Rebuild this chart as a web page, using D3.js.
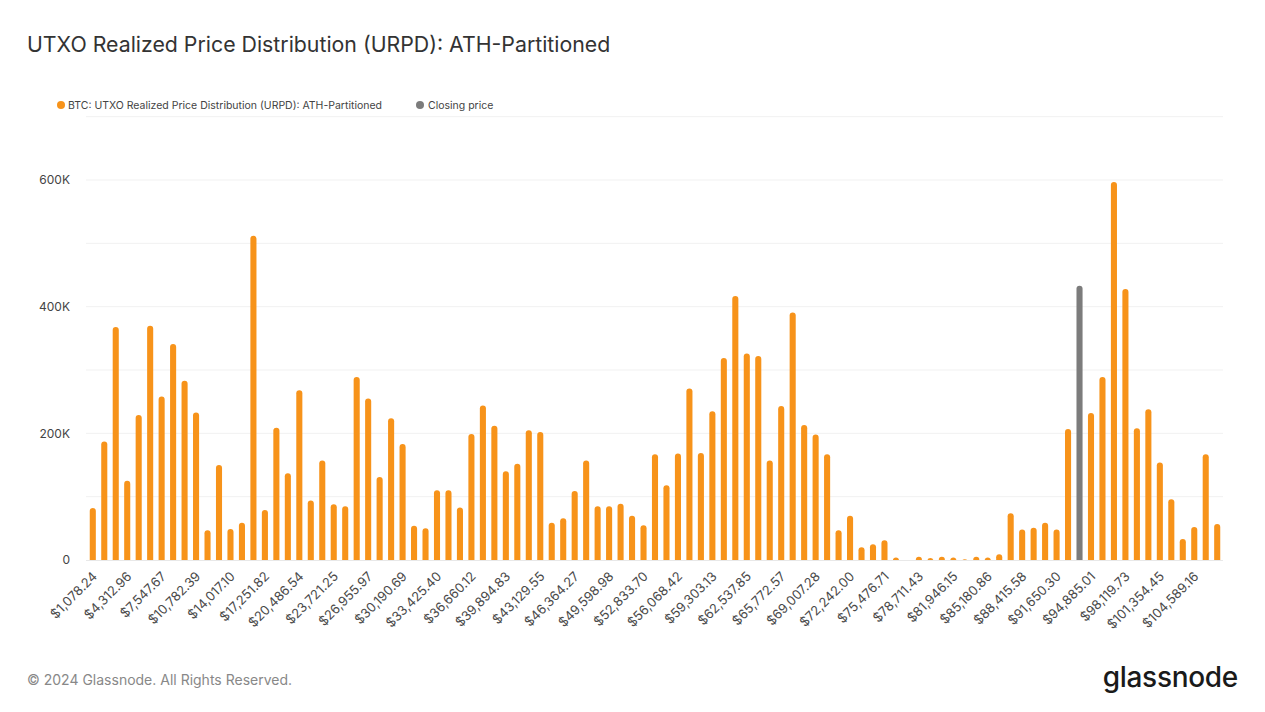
<!DOCTYPE html>
<html>
<head>
<meta charset="utf-8">
<script src="https://cdn.jsdelivr.net/npm/d3@7"></script>
<style>
  html, body { margin: 0; padding: 0; background: #fff; }
  svg { display: block; font-family: Inter, "Noto Sans", sans-serif; }
</style>
</head>
<body>
<svg id="chart" width="1265" height="712"></svg>
<script>
// ---- Data ----
const title = "UTXO Realized Price Distribution (URPD): ATH-Partitioned";
const seriesName = "BTC: UTXO Realized Price Distribution (URPD): ATH-Partitioned";
const closingName = "Closing price";

// bin index 1..99 (each bin ≈ $1,078.24 wide)
const binIndex = d3.range(1, 100);

// URPD supply per bin, in thousands of BTC
const urpdValues = [
  82, 187, 368, 125, 229, 370, 258, 341, 283, 233,
  47, 150, 49, 59, 512, 79, 209, 137, 268, 94,
  157, 88, 85, 289, 255, 131, 224, 183, 54, 50,
  110, 110, 83, 199, 244, 212, 140, 152, 205, 202,
  59, 66, 109, 157, 85, 85, 89, 70, 55, 167,
  118, 168, 271, 169, 235, 319, 417, 326, 322, 157,
  243, 391, 213, 198, 167, 47, 70, 20, 25, 31,
  4, 0, 5, 3, 5, 4, 1, 5, 4, 9,
  74, 48, 51, 59, 48, 207, 0, 232, 289, 597,
  428, 208, 238, 154, 96, 33, 52, 167, 57
];

// Closing price bin (bin 87) with its supply in thousands
const closingBin = [87];
const closingValue = [433];

const tickLabels = [
  "$1,078.24", "$4,312.96", "$7,547.67", "$10,782.39", "$14,017.10", "$17,251.82",
  "$20,486.54", "$23,721.25", "$26,955.97", "$30,190.69", "$33,425.40", "$36,660.12",
  "$39,894.83", "$43,129.55", "$46,364.27", "$49,598.98", "$52,833.70", "$56,068.42",
  "$59,303.13", "$62,537.85", "$65,772.57", "$69,007.28", "$72,242.00", "$75,476.71",
  "$78,711.43", "$81,946.15", "$85,180.86", "$88,415.58", "$91,650.30", "$94,885.01",
  "$98,119.73", "$101,354.45", "$104,589.16"
];
const tickBins = [1,4,7,10,13,16,19,22,25,28,31,34,37,40,43,46,49,52,55,58,61,64,67,70,73,76,79,82,85,88,91,94,97];

const yTicks = [0, 200, 400, 600];
const yGrid = [100, 200, 300, 400, 500, 600, 700];

// ---- Layout ----
const svg = d3.select("#chart");
const W = 1265, H = 712;
const plot = { left: 87, right: 1223, top: 116.7, bottom: 560 };
const orange = "#f7931a", gray = "#7c7c7c";

const x = d3.scaleBand().domain(binIndex).range([plot.left, plot.right]).paddingInner(0.47).paddingOuter(0.24);
const y = d3.scaleLinear().domain([0, 700]).range([plot.bottom, plot.top]);

// Title
svg.append("text").attr("x", 27).attr("y", 52)
  .attr("font-size", 21.3).attr("fill", "#333").text(title);

// Gridlines
svg.append("g").selectAll("line").data(yGrid).join("line")
  .attr("x1", 86).attr("x2", plot.right)
  .attr("y1", d => y(d)).attr("y2", d => y(d))
  .attr("stroke", "#f1f1f1").attr("stroke-width", 1);

// Y axis
const yAxis = d3.axisLeft(y).tickValues(yTicks)
  .tickFormat(d => d === 0 ? "0" : d + "K").tickSize(0).tickPadding(0);
const yg = svg.append("g").attr("transform", `translate(70,0)`).call(yAxis);
yg.select(".domain").remove();
yg.selectAll("text").attr("font-size", 12).attr("fill", "#444").attr("font-family", "Inter, sans-serif");

// Baseline
svg.append("line").attr("x1", 86).attr("x2", plot.right)
  .attr("y1", plot.bottom + 0.5).attr("y2", plot.bottom + 0.5)
  .attr("stroke", "#e8e8e8");

// Clip for bars
svg.append("clipPath").attr("id", "clip").append("rect")
  .attr("x", 0).attr("y", 0).attr("width", W).attr("height", plot.bottom);

const barsG = svg.append("g").attr("clip-path", "url(#clip)");
const bw = x.bandwidth();

barsG.selectAll("rect.urpd").data(binIndex.map((b, i) => ({ b, v: urpdValues[i] })).filter(d => d.v > 0))
  .join("rect").attr("class", "urpd")
  .attr("x", d => x(d.b)).attr("width", bw)
  .attr("y", d => y(d.v)).attr("height", d => plot.bottom - y(d.v) + 4)
  .attr("rx", bw / 2).attr("fill", orange);

barsG.selectAll("rect.close").data(closingBin.map((b, i) => ({ b, v: closingValue[i] })))
  .join("rect").attr("class", "close")
  .attr("x", d => x(d.b)).attr("width", bw)
  .attr("y", d => y(d.v)).attr("height", d => plot.bottom - y(d.v) + 4)
  .attr("rx", bw / 2).attr("fill", gray);

// X axis labels
const xAxis = d3.axisBottom(x).tickValues(tickBins)
  .tickFormat(d => tickLabels[tickBins.indexOf(d)]).tickSize(0).tickPadding(0);
const xg = svg.append("g").attr("transform", `translate(0,${plot.bottom})`).call(xAxis);
xg.select(".domain").remove();
xg.selectAll("text")
  .attr("font-size", 13).attr("fill", "#4a4a4a").attr("font-family", "Inter, sans-serif")
  .attr("text-anchor", "end")
  .attr("dy", "0.35em")
  .attr("transform", "translate(2,14) rotate(-45)");

// Legend
const legend = svg.append("g").attr("font-size", 10.5).attr("fill", "#444");
legend.append("circle").attr("cx", 61).attr("cy", 105).attr("r", 4).attr("fill", orange);
legend.append("text").attr("x", 68).attr("y", 105).attr("dy", "0.35em").text(seriesName);
legend.append("circle").attr("cx", 420).attr("cy", 105).attr("r", 4).attr("fill", gray);
legend.append("text").attr("x", 428).attr("y", 105).attr("dy", "0.35em").text(closingName);

// Footer
svg.append("text").attr("x", 27).attr("y", 685).attr("font-size", 14).attr("fill", "#888")
  .text("© 2024 Glassnode. All Rights Reserved.");
svg.append("text").attr("x", 1238).attr("y", 687).attr("text-anchor", "end")
  .attr("font-size", 28).attr("font-weight", 500).attr("fill", "#1a1a1a").attr("letter-spacing", -0.3)
  .text("glassnode");
</script>
</body>
</html>
